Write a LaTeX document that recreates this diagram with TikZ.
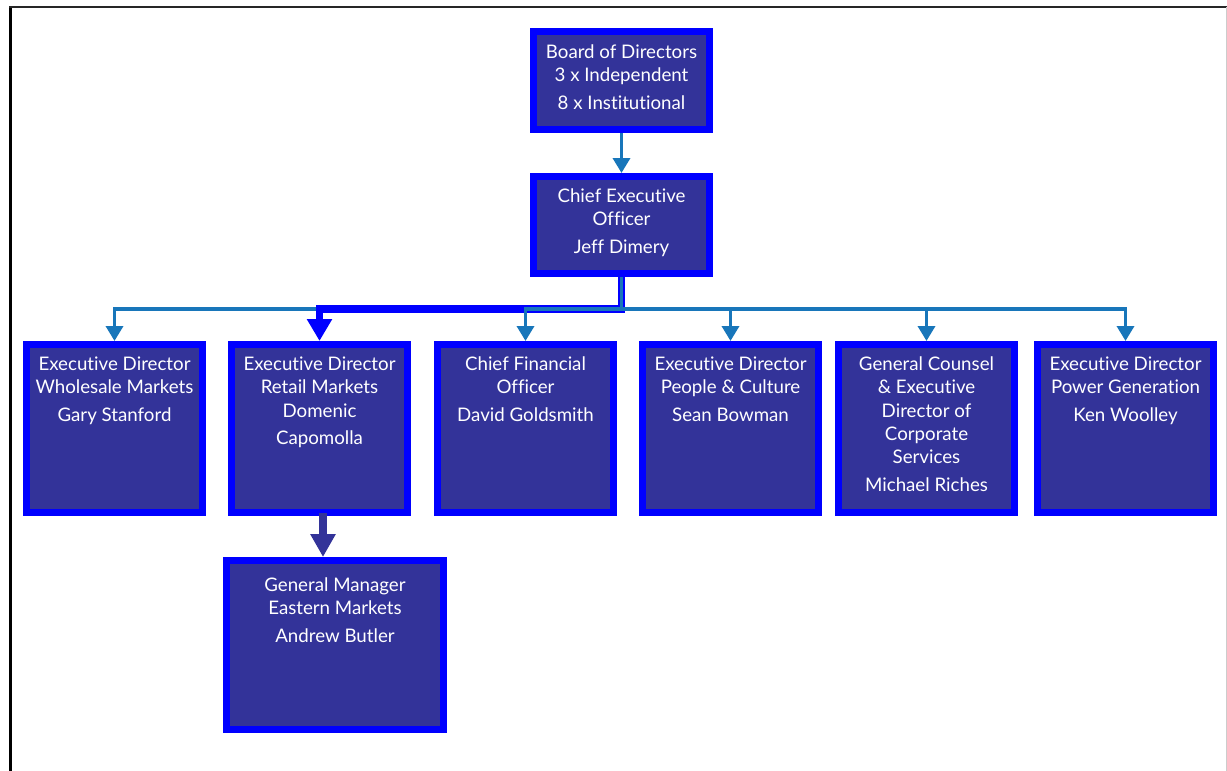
\documentclass[tikz,border=0pt]{standalone}
\usepackage{fontspec}
\setmainfont{Lato}[Ligatures={NoCommon,NoRare,NoDiscretionary}]
\usetikzlibrary{arrows.meta,calc}
\definecolor{boxblue}{RGB}{0,0,255}
\definecolor{boxnavy}{RGB}{51,51,153}
\definecolor{linkteal}{RGB}{24,118,186}
\newcommand\orgfont{\fontsize{18.7pt}{23.3pt}\selectfont}
\newcommand\orgtxt[4]{\parbox[c][#2][t]{#1}{\centering\rule{0pt}{#3}#4}}
\tikzset{
  orgbox/.style={draw=boxblue, fill=boxnavy, line width=7pt, inner sep=0pt,
    outer sep=3.5pt, text=white, font=\orgfont, anchor=north west},
  tealarrow/.style={draw=linkteal, line width=3.5pt,
    -{Triangle[length=15pt,width=17pt]}},
  bluearrow/.style={draw=boxblue, line width=7.5pt,
    -{Triangle[length=22pt,width=24pt]}},
  navyarrow/.style={draw=boxnavy, line width=8pt,
    -{Triangle[length=23pt,width=24pt]}},
}
\begin{document}
\begin{tikzpicture}[x=1pt,y=-1pt]
\useasboundingbox (0,0) rectangle (1227,771);
% frame
\draw[black, line width=3pt] (10.5,6) -- (10.5,771);
\draw[black!85, line width=2.5pt] (9,7) -- (1227,7);
\draw[black!20, line width=1pt] (1226,7) -- (1226,771);
% boxes
\node[orgbox] (board) at (530,28) {\orgtxt{176pt}{98pt}{27pt}{Board of Directors\\3 x Independent\\[4pt]8 x Institutional}};
\node[orgbox] (ceo) at (530,173) {\orgtxt{176pt}{97pt}{26pt}{Chief Executive\\Officer\\[4pt]Jeff Dimery}};
\node[orgbox] (whole) at (23,341) {\orgtxt{176pt}{168pt}{26pt}{Executive Director\\Wholesale Markets\\[4pt]Gary Stanford}};
\node[orgbox] (retail) at (228,341) {\orgtxt{176pt}{168pt}{26pt}{Executive Director\\Retail Markets\\Domenic\\[4pt]Capomolla}};
\node[orgbox] (cfo) at (434,341) {\orgtxt{176pt}{168pt}{26pt}{Chief Financial\\Officer\\[4pt]David Goldsmith}};
\node[orgbox] (people) at (639,341) {\orgtxt{176pt}{168pt}{26pt}{Executive Director\\People \& Culture\\[4pt]Sean Bowman}};
\node[orgbox] (gc) at (835,341) {\orgtxt{176pt}{168pt}{26pt}{General Counsel\\\& Executive\\Director of\\Corporate\\Services\\[4pt]Michael Riches}};
\node[orgbox] (power) at (1034,341) {\orgtxt{176pt}{168pt}{26pt}{Executive Director\\Power Generation\\[4pt]Ken Woolley}};
\node[orgbox] (gm) at (223,557) {\orgtxt{217pt}{169pt}{31pt}{General Manager\\Eastern Markets\\[4pt]Andrew Butler}};
% connectors
\draw[tealarrow] (board.south) -- (ceo.north);
\draw[tealarrow] (ceo.south) -- ++(0,32) -| (whole.north);
\draw[bluearrow] (ceo.south) -- ++(0,32) -| (retail.north);
\draw[tealarrow] (ceo.south) -- ++(0,32) -| (cfo.north);
\draw[tealarrow] (ceo.south) -- ++(0,32) -| (people.north);
\draw[tealarrow] (ceo.south) -- ++(0,32) -| (gc.north);
\draw[tealarrow] (ceo.south) -- ++(0,32) -| (power.north);
\path ($(retail.south)+(3.5,-3)$) coordinate (rs);
\draw[navyarrow] (rs) -- (rs |- gm.north);
\end{tikzpicture}
\end{document}
